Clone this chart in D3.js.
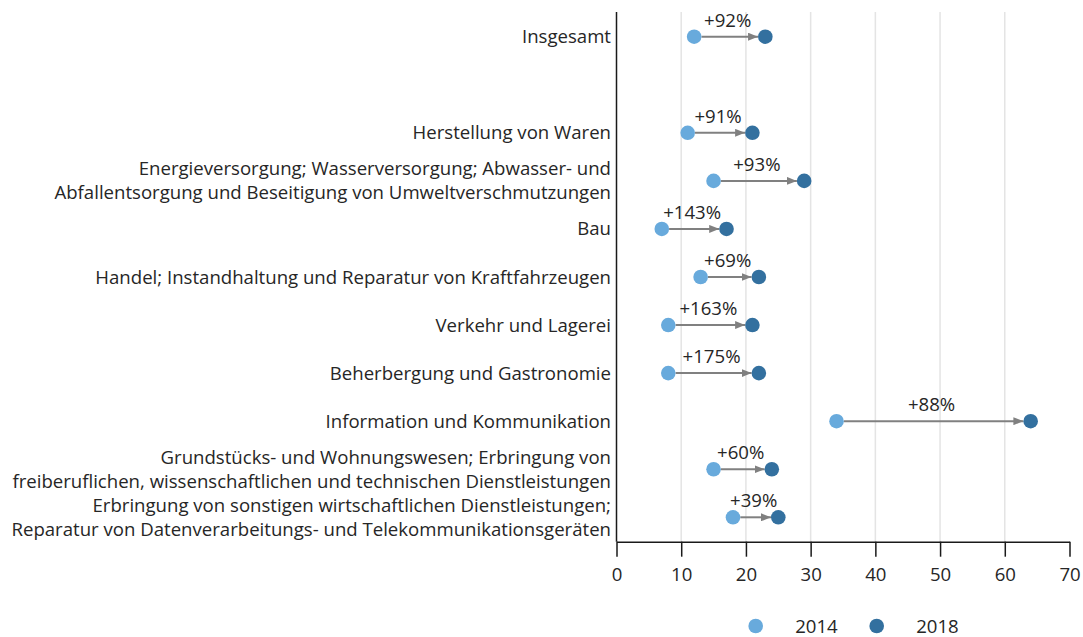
<!DOCTYPE html>
<html>
<head>
<meta charset="utf-8">
<script src="https://cdn.jsdelivr.net/npm/d3@7"></script>
<style>
  body { margin: 0; background: #fff; }
  text { font-family: "Open Sans", sans-serif; fill: #262626; }
</style>
</head>
<body>
<div id="chart"></div>
<script>
// Branches (one entry per row; "" is the empty spacer row under "Insgesamt")
var categories = [
    ["Insgesamt"],
    [""],
    ["Herstellung von Waren"],
    ["Energieversorgung; Wasserversorgung; Abwasser- und", "Abfallentsorgung und Beseitigung von Umweltverschmutzungen"],
    ["Bau"],
    ["Handel; Instandhaltung und Reparatur von Kraftfahrzeugen"],
    ["Verkehr und Lagerei"],
    ["Beherbergung und Gastronomie"],
    ["Information und Kommunikation"],
    ["Grundstücks- und Wohnungswesen; Erbringung von", "freiberuflichen, wissenschaftlichen und technischen Dienstleistungen"],
    ["Erbringung von sonstigen wirtschaftlichen Dienstleistungen;", "Reparatur von Datenverarbeitungs- und Telekommunikationsgeräten"]
];
var values2014 = [12, null, 11, 15, 7, 13, 8, 8, 34, 15, 18];
var values2018 = [23, null, 21, 29, 17, 22, 21, 22, 64, 24, 25];
var changeLabels = ["+92%", "", "+91%", "+93%", "+143%", "+69%", "+163%", "+175%", "+88%", "+60%", "+39%"];
var xTicks = [0, 10, 20, 30, 40, 50, 60, 70];
var years = ["2014", "2018"];

var config = {
    colors: { y2014: '#68aadc', y2018: '#33709f', arrow: '#808080', grid: '#e4e4e4', axis: '#1a1a1a' },
    fontSize: 18.6,
    lineGap: 24,
    r: 7.3,
    width: 1083,
    height: 637
};

var svg = d3.select('#chart').append('svg')
    .attr('width', config.width)
    .attr('height', config.height);

var x = d3.scaleLinear().domain([0, 70]).range([616.5, 1069.5]);
var y = d3.scalePoint().domain(d3.range(categories.length)).range([36.7, 517.3]);
var axisY = 541.7, topY = 12;

// grid
svg.append('g').selectAll('line')
    .data(xTicks.filter(function (t) { return t > 0 && t < 70; }))
    .enter().append('line')
    .attr('x1', function (d) { return x(d); })
    .attr('x2', function (d) { return x(d); })
    .attr('y1', topY).attr('y2', axisY)
    .attr('stroke', config.colors.grid)
    .attr('stroke-width', 1.5);

// x axis
var xAxis = svg.append('g')
    .attr('transform', 'translate(0,' + axisY + ')')
    .call(d3.axisBottom(x).tickValues(xTicks).tickSize(15).tickSizeOuter(0).tickPadding(11));
xAxis.selectAll('path, line').attr('stroke', config.colors.axis).attr('stroke-width', 1.5);
xAxis.selectAll('text')
    .attr('font-family', '"Open Sans", sans-serif')
    .attr('font-size', config.fontSize)
    .attr('fill', '#262626');

// y axis line
svg.append('line')
    .attr('x1', x(0)).attr('x2', x(0))
    .attr('y1', topY).attr('y2', axisY)
    .attr('stroke', config.colors.axis)
    .attr('stroke-width', 1.5);

// category labels
var labels = svg.append('g').selectAll('text')
    .data(categories)
    .enter().append('text')
    .attr('text-anchor', 'end')
    .attr('font-size', config.fontSize)
    .attr('y', function (d, i) { return y(i) + config.fontSize * 0.35; });
labels.selectAll('tspan')
    .data(function (d) { return d.map(function (t, k) { return { t: t, k: k, n: d.length }; }); })
    .enter().append('tspan')
    .attr('x', 611)
    .attr('dy', function (d) { return d.k == 0 ? (d.n == 1 ? 0 : -config.lineGap / 2) : config.lineGap; })
    .text(function (d) { return d.t; });

// arrowhead
svg.append('defs').append('marker')
    .attr('id', 'arrow')
    .attr('viewBox', '0 0 10 8')
    .attr('refX', 10).attr('refY', 4)
    .attr('markerUnits', 'userSpaceOnUse')
    .attr('markerWidth', 10).attr('markerHeight', 8)
    .attr('orient', 'auto')
    .append('path')
    .attr('d', 'M0,0L10,4L0,8Z')
    .attr('fill', config.colors.arrow);

var rows = d3.range(categories.length).filter(function (i) { return values2014[i] != null; });

var g = svg.append('g').selectAll('g').data(rows).enter().append('g');

g.append('line')
    .attr('x1', function (i) { return x(values2014[i]) + config.r; })
    .attr('x2', function (i) { return x(values2018[i]) - config.r; })
    .attr('y1', function (i) { return y(i); })
    .attr('y2', function (i) { return y(i); })
    .attr('stroke', config.colors.arrow)
    .attr('stroke-width', 2)
    .attr('marker-end', 'url(#arrow)');

g.append('circle')
    .attr('cx', function (i) { return x(values2014[i]); })
    .attr('cy', function (i) { return y(i); })
    .attr('r', config.r)
    .attr('fill', config.colors.y2014);

g.append('circle')
    .attr('cx', function (i) { return x(values2018[i]); })
    .attr('cy', function (i) { return y(i); })
    .attr('r', config.r)
    .attr('fill', config.colors.y2018);

g.append('text')
    .attr('x', function (i) { return (x(values2014[i]) + x(values2018[i])) / 2 - 2; })
    .attr('y', function (i) { return y(i) - 10; })
    .attr('text-anchor', 'middle')
    .attr('font-size', config.fontSize)
    .text(function (i) { return changeLabels[i]; });

// legend
var legend = svg.append('g').selectAll('g')
    .data(years)
    .enter().append('g')
    .attr('transform', function (d, i) { return 'translate(' + (755.7 + i * 121) + ',626)'; });
legend.append('circle')
    .attr('r', config.r)
    .attr('fill', function (d, i) { return i == 0 ? config.colors.y2014 : config.colors.y2018; });
legend.append('text')
    .attr('x', 39.5)
    .attr('y', 7)
    .attr('font-size', config.fontSize)
    .text(function (d) { return d; });
</script>
</body>
</html>
